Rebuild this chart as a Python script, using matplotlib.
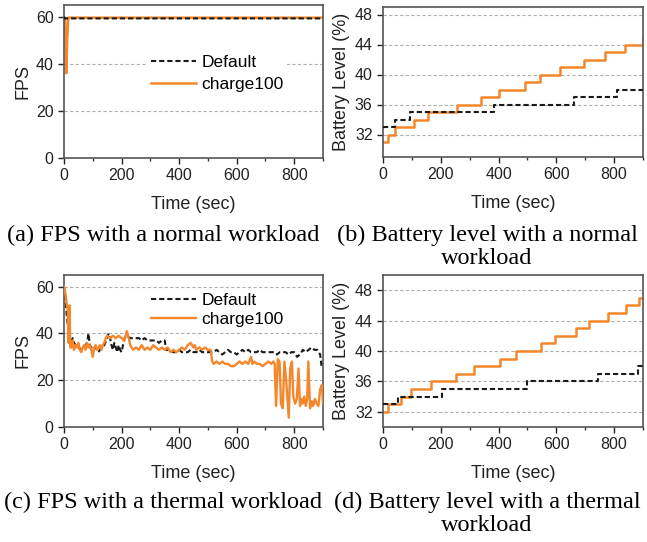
import matplotlib
matplotlib.use('Agg')
import matplotlib.pyplot as plt
from matplotlib.ticker import MultipleLocator

plt.rcParams['font.family'] = ['Liberation Sans', 'DejaVu Sans']

ORANGE = '#f5862a'
BLACK = '#1a1a1a'

# (a) FPS, normal workload
a_def_t = [0, 3, 900]
a_def_v = [60, 59.3, 59.3]
a_chg_t = [0, 4, 8, 11, 15, 900]
a_chg_v = [60, 59, 36, 50, 59.6, 59.6]

# (b) battery, normal workload (level changes)
b_def_t = [0, 40, 95, 383, 660, 810, 900]
b_def_v = [33, 34, 35, 36, 37, 38, 38]
b_chg_t = [0, 17, 43, 107, 156, 255, 340, 400, 490, 542, 611, 695, 770, 839, 899, 900]
b_chg_v = [31, 32, 33, 34, 35, 36, 37, 38, 39, 40, 41, 42, 43, 44, 45, 45]

# (c) FPS, thermal workload
c_def_t = [0, 5, 10, 15, 20, 25, 30, 35, 40, 50, 60, 70, 80, 85, 90, 100, 110, 120, 130,
           140, 150, 155, 160, 165, 170, 175, 180, 185, 190, 195, 200, 205, 210, 220, 230,
           240, 250, 260, 270, 280, 290, 300, 310, 320, 330, 340, 350, 355, 360, 370, 380,
           390, 400, 410, 420, 430, 440, 450, 460, 470, 480, 490, 500, 510, 520, 530, 540,
           550, 560, 570, 580, 590, 600, 610, 620, 630, 640, 650, 660, 670, 680, 690, 700,
           710, 720, 730, 740, 750, 760, 770, 780, 790, 800, 810, 820, 830, 840, 850, 860,
           870, 880, 890, 895, 900]
c_def_v = [60, 55, 47, 42, 38, 36, 38, 36, 35, 34, 33, 34, 36, 40, 35, 33, 34, 32, 34,
           35, 38, 40, 38, 35, 33, 36, 34, 32, 35, 33, 32, 35, 38, 39, 38,
           38, 38, 38, 37, 38, 37, 37, 37, 37, 36, 37, 37, 33, 33, 33, 32,
           32, 33, 32, 32, 32, 33, 32, 32, 33, 32, 32, 32, 32, 32, 33, 32,
           31, 32, 33, 32, 32, 31, 32, 33, 32, 33, 32, 32, 32, 33, 32, 32,
           32, 32, 32, 31, 32, 32, 32, 31, 32, 32, 30, 31, 33, 32, 33, 34,
           33, 33, 31, 26, 25]
c_chg_t = [0, 5, 10, 13, 16, 19, 22, 26, 30, 35, 40, 45, 50, 55, 60, 65, 70, 75, 80, 85,
           90, 95, 100, 105, 110, 115, 120, 125, 130, 135, 140, 145, 150, 160, 170, 180,
           190, 200, 210, 218, 225, 230, 240, 250, 260, 270, 280, 290, 300, 310, 320, 330,
           340, 350, 360, 370, 380, 390, 400, 410, 420, 430, 440, 450, 455, 460, 470, 480,
           490, 500, 510, 515, 520, 530, 540, 550, 560, 570, 580, 590, 600, 610, 620, 630,
           640, 650, 655, 660, 670, 680, 690, 700, 710, 720, 728, 732, 737, 743, 749, 754,
           760, 766, 772, 781, 786, 792, 797, 803, 809, 815, 820, 825, 830, 835, 840, 845,
           849, 855, 861, 866, 872, 878, 884, 890, 896, 900]
c_chg_v = [60, 57, 52, 50, 36, 52, 34, 34, 37, 33, 35, 34, 36, 33, 32, 34, 35, 33, 36, 34,
           35, 33, 30, 34, 35, 33, 34, 35, 33, 35, 36, 38, 39, 38, 39, 38,
           39, 38, 37, 41, 38, 35, 33, 34, 33, 35, 33, 34, 33, 35, 34, 33,
           34, 33, 34, 32, 33, 32, 33, 34, 33, 35, 36, 34, 35, 33, 34, 33,
           34, 33, 33, 28, 27, 28, 27, 28, 27, 27, 26, 26, 27, 28, 27, 28,
           27, 30, 27, 28, 27, 27, 26, 27, 28, 27, 28, 27, 9, 29, 28, 10,
           8, 28, 20, 4, 25, 28, 13, 10, 12, 25, 9, 12, 10, 13, 9, 12,
           28, 8, 11, 9, 12, 10, 9, 16, 18, 10]

# (d) battery, thermal workload (level changes)
d_def_t = [0, 52, 203, 498, 744, 882, 900]
d_def_v = [33, 34, 35, 36, 37, 38, 38]
d_chg_t = [0, 17, 63, 98, 165, 251, 315, 406, 461, 548, 596, 667, 713, 779, 842, 885, 900]
d_chg_v = [32, 33, 34, 35, 36, 37, 38, 39, 40, 41, 42, 43, 44, 45, 46, 47, 47]

captions = ['(a) FPS with a normal workload',
            '(b) Battery level with a normal\nworkload',
            '(c) FPS with a thermal workload',
            '(d) Battery level with a thermal\nworkload']

fig = plt.figure(figsize=(6.47, 5.42), dpi=100)
W, H = 647.0, 542.0


def make_ax(left, top, right, bottom):
    return fig.add_axes([left / W, 1 - bottom / H, (right - left) / W, (bottom - top) / H])


def style(ax, ylim, yticks, ylabel):
    ax.set_xlim(0, 900)
    ax.set_ylim(*ylim)
    ax.set_yticks(yticks)
    ax.xaxis.set_major_locator(MultipleLocator(200))
    ax.xaxis.set_minor_locator(MultipleLocator(100))
    ax.tick_params(axis='both', which='major', labelsize=11.5, colors='#222222',
                   length=4, width=1)
    ax.tick_params(axis='x', which='minor', length=2.5, width=1, colors='#333333')
    ax.yaxis.grid(True, linestyle=(0, (3, 2)), color='#b0b0b0', linewidth=0.8)
    ax.set_axisbelow(True)
    for s in ax.spines.values():
        s.set_color('#555555')
        s.set_linewidth(1.2)
    ax.set_xlabel('Time (sec)', fontsize=13, color='#222222', labelpad=9)
    ax.set_ylabel(ylabel, fontsize=13, color='#222222', labelpad=3)


dash = (0, (2.5, 1.4))

ax1 = make_ax(64, 5, 323, 158)
ax1.plot(a_def_t, a_def_v, color=BLACK, linestyle=dash, lw=1.5, label='Default', zorder=3)
ax1.plot(a_chg_t, a_chg_v, color=ORANGE, lw=1.8, label='charge100', zorder=2)
style(ax1, (0, 65), [0, 20, 40, 60], 'FPS')
ax1.legend(loc='center left', bbox_to_anchor=(0.29, 0.55), fontsize=12.5, frameon=True,
           facecolor='white', edgecolor='none', framealpha=1, fancybox=False,
           handlelength=2.6, handletextpad=0.3, labelspacing=0.4, borderpad=0.2)

ax2 = make_ax(383, 7, 643, 157)
ax2.plot(b_def_t, b_def_v, color=BLACK, linestyle=dash, lw=1.5, drawstyle='steps-post', zorder=3)
ax2.plot(b_chg_t, b_chg_v, color=ORANGE, lw=1.8, drawstyle='steps-post', zorder=2)
style(ax2, (29, 49), [32, 36, 40, 44, 48], 'Battery Level (%)')

ax3 = make_ax(64, 275, 323, 427)
ax3.plot(c_def_t, c_def_v, color=BLACK, linestyle=dash, lw=1.5, label='Default', zorder=2)
ax3.plot(c_chg_t, c_chg_v, color=ORANGE, lw=1.7, label='charge100', zorder=3)
style(ax3, (0, 65), [0, 20, 40, 60], 'FPS')
ax3.legend(loc='center left', bbox_to_anchor=(0.29, 0.77), fontsize=12.5, frameon=True,
           facecolor='white', edgecolor='none', framealpha=1, fancybox=False,
           handlelength=2.6, handletextpad=0.3, labelspacing=0.25, borderpad=0.2)

ax4 = make_ax(383, 275, 643, 427)
ax4.plot(d_def_t, d_def_v, color=BLACK, linestyle=dash, lw=1.5, drawstyle='steps-post', zorder=3)
ax4.plot(d_chg_t, d_chg_v, color=ORANGE, lw=1.8, drawstyle='steps-post', zorder=2)
style(ax4, (30, 50), [32, 36, 40, 44, 48], 'Battery Level (%)')

serif = ['Liberation Serif', 'DejaVu Serif']
fig.text(163 / W, 1 - 235 / H, captions[0], ha='center', va='center', fontsize=17.5, family=serif)
fig.text(487 / W, 1 - 247 / H, captions[1], ha='center', va='center', fontsize=17.5,
         family=serif, linespacing=1.1, multialignment='center')
fig.text(163 / W, 1 - 502 / H, captions[2], ha='center', va='center', fontsize=17.5, family=serif)
fig.text(487 / W, 1 - 514 / H, captions[3], ha='center', va='center', fontsize=17.5,
         family=serif, linespacing=1.1, multialignment='center')

fig.savefig('out.png', dpi=100)
